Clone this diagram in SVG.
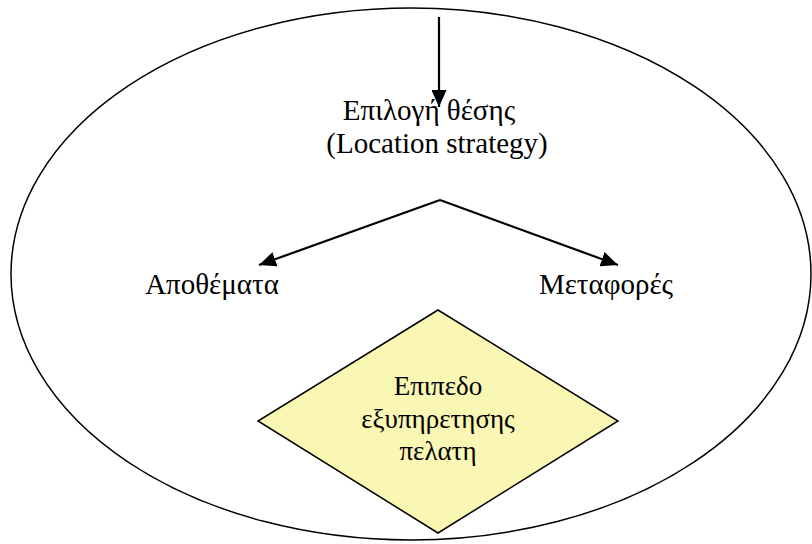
<svg xmlns="http://www.w3.org/2000/svg" width="812" height="544" viewBox="0 0 812 544">
<defs>
<marker id="ah" viewBox="0 0 17 15" refX="17" refY="7.5" markerWidth="17" markerHeight="15" markerUnits="userSpaceOnUse" orient="auto">
<path d="M0,0 L17,7.5 L0,15 Z" fill="#000"/>
</marker>
</defs>
<rect width="812" height="544" fill="#fff"/>
<g id="boundary">
<ellipse cx="411" cy="274" rx="400" ry="266" fill="none" stroke="#000" stroke-width="1.5"/>
</g>
<g id="connectors" stroke="#000" stroke-width="2.2" fill="none">
<line x1="439" y1="17" x2="439" y2="107" marker-end="url(#ah)"/>
<line x1="440" y1="200" x2="259" y2="265" marker-end="url(#ah)"/>
<line x1="440" y1="200" x2="618" y2="265" marker-end="url(#ah)"/>
</g>
<g id="location">
<text x="429" y="120" font-family="'Liberation Serif', serif" font-size="29" text-anchor="middle">Επιλογή θέσης</text>
<text x="437" y="153" font-family="'Liberation Serif', serif" font-size="29" text-anchor="middle">(Location strategy)</text>
</g>
<g id="inventory">
<text x="212" y="294" font-family="'Liberation Serif', serif" font-size="29" text-anchor="middle">Αποθέματα</text>
</g>
<g id="transport">
<text x="606" y="294" font-family="'Liberation Serif', serif" font-size="29" text-anchor="middle">Μεταφορές</text>
</g>
<g id="service">
<polygon points="438,310 618,421 438,533 258,421" fill="#FAF6B4" stroke="#000" stroke-width="1.5"/>
<text x="438" y="395" font-family="'Liberation Serif', serif" font-size="27" text-anchor="middle">Επιπεδο</text>
<text x="438" y="428" font-family="'Liberation Serif', serif" font-size="27" text-anchor="middle">εξυπηρετησης</text>
<text x="438" y="460" font-family="'Liberation Serif', serif" font-size="27" text-anchor="middle">πελατη</text>
</g>
</svg>
